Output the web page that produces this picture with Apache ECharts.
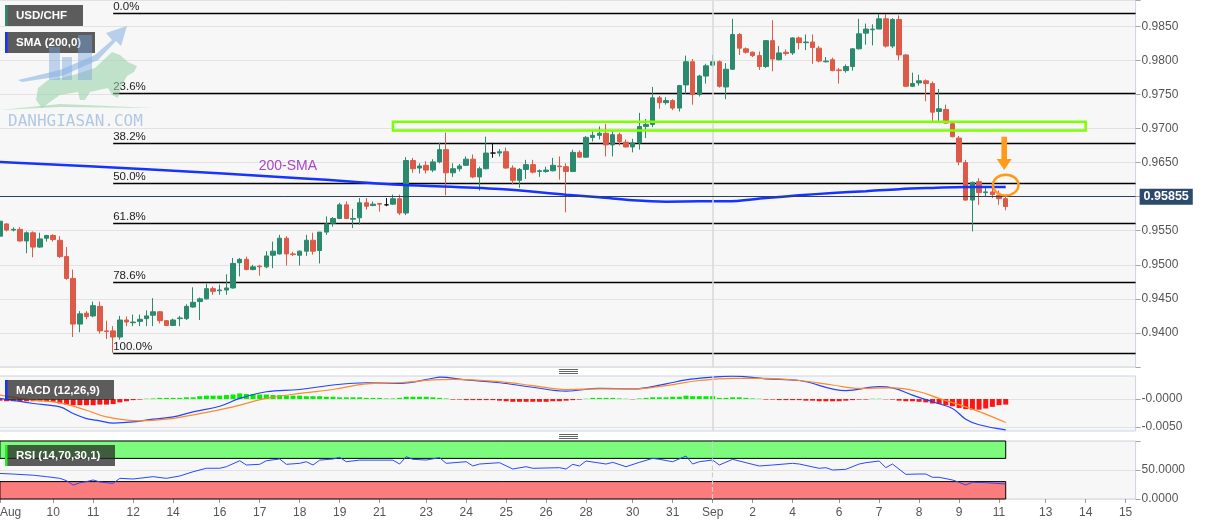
<!DOCTYPE html>
<html><head><meta charset="utf-8">
<script src="https://cdn.jsdelivr.net/npm/echarts@6/dist/echarts.min.js"></script>
<style>html,body{margin:0;padding:0;background:#fff}#c{width:1207px;height:526px}</style>
</head><body><div id="c"></div>
<script>
// ---------- DATA ----------
const opens = [0.9542,0.9560,0.9551,0.9552,0.9535,0.9547,0.9526,0.9539,0.9543,0.9536,0.9512,0.9480,0.9413,0.9429,0.9425,0.9439,0.9403,0.9403,0.9394,0.9419,0.9415,0.9417,0.9421,0.9426,0.9431,0.9418,0.9411,0.9421,0.9421,0.9438,0.9446,0.9450,0.9465,0.9462,0.9463,0.9466,0.9503,0.9508,0.9493,0.9498,0.9497,0.9514,0.9516,0.9539,0.9516,0.9514,0.9520,0.9536,0.9521,0.9548,0.9561,0.9568,0.9588,0.9567,0.9569,0.9591,0.9587,0.9590,0.9588,0.9589,0.9597,0.9576,0.9653,0.9642,0.9646,0.9639,0.9651,0.9669,0.9635,0.9641,0.9646,0.9655,0.9629,0.9641,0.9664,0.9664,0.9666,0.9642,0.9624,0.9640,0.9647,0.9637,0.9637,0.9638,0.9645,0.9644,0.9637,0.9665,0.9658,0.9687,0.9690,0.9693,0.9676,0.9691,0.9680,0.9673,0.9679,0.9703,0.9706,0.9745,0.9738,0.9741,0.9730,0.9764,0.9798,0.9750,0.9777,0.9793,0.9798,0.9761,0.9787,0.9838,0.9817,0.9812,0.9807,0.9791,0.9829,0.9801,0.9812,0.9811,0.9833,0.9826,0.9827,0.9818,0.9798,0.9801,0.9786,0.9785,0.9791,0.9817,0.9840,0.9845,0.9846,0.9861,0.9821,0.9860,0.9808,0.9762,0.9767,0.9770,0.9766,0.9725,0.9728,0.9707,0.9686,0.9650,0.9595,0.9622,0.9606,0.9607,0.9602,0.9597];
const closes = [0.9564,0.9551,0.9552,0.9535,0.9547,0.9526,0.9538,0.9543,0.9537,0.9512,0.9480,0.9413,0.9428,0.9424,0.9440,0.9403,0.9402,0.9394,0.9419,0.9416,0.9416,0.9420,0.9425,0.9431,0.9418,0.9411,0.9419,0.9422,0.9439,0.9445,0.9450,0.9465,0.9461,0.9463,0.9466,0.9502,0.9508,0.9493,0.9497,0.9497,0.9513,0.9520,0.9539,0.9516,0.9515,0.9520,0.9536,0.9520,0.9548,0.9560,0.9568,0.9588,0.9568,0.9568,0.9591,0.9586,0.9589,0.9589,0.9588,0.9597,0.9576,0.9653,0.9641,0.9645,0.9639,0.9651,0.9669,0.9635,0.9641,0.9645,0.9655,0.9629,0.9641,0.9664,0.9664,0.9666,0.9642,0.9624,0.9640,0.9647,0.9636,0.9638,0.9639,0.9646,0.9644,0.9637,0.9665,0.9658,0.9687,0.9690,0.9693,0.9676,0.9691,0.9681,0.9673,0.9679,0.9703,0.9706,0.9745,0.9738,0.9741,0.9730,0.9763,0.9798,0.9750,0.9777,0.9792,0.9798,0.9762,0.9787,0.9838,0.9818,0.9812,0.9807,0.9791,0.9829,0.9802,0.9811,0.9810,0.9833,0.9826,0.9827,0.9819,0.9799,0.9799,0.9785,0.9785,0.9791,0.9817,0.9839,0.9846,0.9846,0.9861,0.9821,0.9860,0.9808,0.9762,0.9766,0.9770,0.9766,0.9724,0.9729,0.9708,0.9688,0.9651,0.9595,0.9621,0.9606,0.9607,0.9603,0.9597,0.95855];
const lows = [0.9541,0.9549,0.9549,0.9534,0.9517,0.9511,0.9525,0.9534,0.9534,0.9510,0.9478,0.9394,0.9401,0.9420,0.9423,0.9399,0.9391,0.9371,0.9390,0.9410,0.9410,0.9410,0.9410,0.9410,0.9414,0.9410,0.9410,0.9410,0.9419,0.9437,0.9419,0.9449,0.9456,0.9456,0.9456,0.9465,0.9483,0.9492,0.9492,0.9484,0.9495,0.9495,0.9515,0.9499,0.9513,0.9499,0.9513,0.9515,0.9502,0.9544,0.9556,0.9567,0.9567,0.9554,0.9559,0.9581,0.9586,0.9578,0.9586,0.9588,0.9573,0.9573,0.9635,0.9634,0.9634,0.9636,0.9649,0.9602,0.9629,0.9637,0.9645,0.9627,0.9609,0.9640,0.9657,0.9659,0.9641,0.9618,0.9613,0.9626,0.9634,0.9629,0.9635,0.9637,0.9625,0.9577,0.9636,0.9657,0.9657,0.9681,0.9684,0.9659,0.9659,0.9675,0.9672,0.9665,0.9669,0.9686,0.9702,0.9729,0.9735,0.9727,0.9725,0.9751,0.9735,0.9747,0.9766,0.9791,0.9760,0.9743,0.9786,0.9808,0.9810,0.9805,0.9786,0.9789,0.9784,0.9800,0.9807,0.9808,0.9816,0.9815,0.9795,0.9797,0.9797,0.9784,0.9766,0.9782,0.9785,0.9816,0.9823,0.9822,0.9846,0.9819,0.9818,0.9800,0.9761,0.9761,0.9763,0.9740,0.9711,0.9711,0.9707,0.9687,0.9646,0.9594,0.9549,0.9588,0.9600,0.9598,0.9588,0.9580];
const highs = [0.9566,0.9561,0.9555,0.9555,0.9549,0.9549,0.9547,0.9544,0.9545,0.9542,0.9526,0.9493,0.9432,0.9432,0.9446,0.9446,0.9418,0.9410,0.9425,0.9424,0.9427,0.9427,0.9433,0.9451,0.9432,0.9419,0.9421,0.9425,0.9442,0.9467,0.9452,0.9472,0.9468,0.9471,0.9486,0.9510,0.9510,0.9512,0.9500,0.9500,0.9520,0.9534,0.9544,0.9542,0.9519,0.9521,0.9544,0.9547,0.9548,0.9571,0.9570,0.9591,0.9593,0.9582,0.9598,0.9598,0.9593,0.9590,0.9598,0.9603,0.9603,0.9658,0.9657,0.9649,0.9652,0.9655,0.9679,0.9694,0.9649,0.9648,0.9659,0.9662,0.9644,0.9688,0.9679,0.9670,0.9672,0.9646,0.9642,0.9654,0.9654,0.9640,0.9644,0.9657,0.9659,0.9649,0.9669,0.9668,0.9689,0.9698,0.9703,0.9707,0.9696,0.9694,0.9684,0.9685,0.9723,0.9714,0.9761,0.9748,0.9746,0.9743,0.9764,0.9807,0.9802,0.9779,0.9795,0.9808,0.9800,0.9796,0.9861,0.9840,0.9819,0.9813,0.9813,0.9830,0.9859,0.9821,0.9816,0.9834,0.9835,0.9838,0.9838,0.9821,0.9805,0.9804,0.9789,0.9794,0.9818,0.9861,0.9854,0.9853,0.9868,0.9868,0.9862,0.9866,0.9809,0.9782,0.9779,0.9772,0.9769,0.9758,0.9735,0.9709,0.9689,0.9654,0.9622,0.9627,0.9615,0.9614,0.9609,0.9600];
const dojiBlack = [58, 74];

const smaPoints = [[0,0.96509],[22,0.96404],[45,0.96272],[53,0.96220],[60,0.96176],[75,0.96113],[85,0.96029],[90,0.95990],[95,0.95946],[100,0.95927],[105,0.95931],[109,0.95931],[115,0.95981],[120,0.96019],[125,0.96054],[130,0.96081],[135,0.96110],[140,0.96128],[145,0.96142],[151,0.96142]];

const fibLabels = ['0.0%','23.6%','38.2%','50.0%','61.8%','78.6%','100.0%'];
const fibPrices = [0.9870,0.9752,0.9679,0.9620,0.9561,0.9475,0.9370];
const fibStartIdx = 17;

const zoneBox = [59, 0.9710, 163, 0.9697];   // [startIdx, top, endIdx, bottom]
const arrowMark = [151, 0.9688, 0.9639, 0.9617]; // [idx, shaftTop, tip, ellipseCenter]
const smaTag = [39, 0.9645, '200-SMA'];

const macdHist = [-0.0003,-0.0004,-0.0004,-0.0004,-0.0004,-0.0004,-0.0004,-0.0004,-0.0005,-0.0008,-0.0010,-0.0011,-0.0011,-0.0011,-0.0011,-0.0010,-0.0010,-0.0009,-0.0006,-0.0004,-0.0002,-0.0001,
0.00005,0.0001,0.0002,0.0002,0.0002,0.0002,0.0003,0.0003,0.0005,0.0006,0.0006,0.0006,0.0007,0.0008,0.0010,0.0009,0.0009,0.0008,0.0008,0.0007,0.0007,0.0006,0.0006,0.0006,0.0005,0.0005,0.0005,0.0004,0.0004,0.0003,0.0003,0.0003,0.0003,0.0002,0.0002,0.0002,0.0001,0.0001,0.0002,
0.0004,0.0004,0.0004,0.0004,0.0003,0.0002,0.0001,-0.0001,-0.0001,-0.0002,-0.0002,-0.0002,-0.0002,-0.0002,-0.0003,-0.0004,-0.0005,-0.0005,-0.0005,-0.0005,-0.0005,-0.0005,-0.0004,-0.0004,-0.0003,-0.0002,-0.0001,0.00005,0.0002,0.0002,0.0002,0.0002,0.0001,0.00005,-0.00005,0.0001,0.0002,0.0003,0.0003,0.0003,0.0004,0.0004,0.0006,0.0005,0.0005,0.0005,0.0005,0.0002,0.0002,0.0003,0.0003,0.0002,0.0001,0.00005,-0.0001,-0.0001,-0.0002,-0.0002,-0.0002,-0.0002,
-0.0003,-0.0003,-0.0004,-0.0004,-0.0004,-0.0004,-0.0003,-0.0002,-0.0001,-0.0001,0.00005,0.00005,-0.00005,-0.0001,-0.0003,-0.0004,-0.0004,-0.0005,-0.0006,-0.0008,-0.0009,-0.0011,-0.0013,-0.0016,-0.0018,-0.0019,-0.0019,-0.0017,-0.0014,-0.0011,-0.0010];
const macdLine = [[0,0.0001],[5,-0.0008],[9,-0.0014],[11,-0.0026],[13,-0.0035],[15,-0.0039],[17,-0.0043],[20,-0.0041],[23,-0.0036],[26,-0.0032],[29,-0.0023],[33,-0.0013],[36,0.0001],[40,0.0013],[45,0.0017],[50,0.0025],[55,0.0029],[60,0.0028],[65,0.0037],[66,0.0039],[70,0.0034],[75,0.0029],[80,0.0021],[85,0.0014],[90,0.0019],[95,0.0018],[100,0.0027],[103,0.0034],[107,0.0039],[110,0.0041],[115,0.0036],[120,0.0033],[127,0.0015],[132,0.0022],[134,0.0020],[137,0.0007],[140,-0.0005],[143,-0.0017],[145,-0.0036],[147,-0.0046],[151,-0.0055]];
const signalLine = [[0,0.0007],[5,-0.0002],[9,-0.0007],[13,-0.0020],[16,-0.0032],[21,-0.0039],[25,-0.0036],[30,-0.0026],[35,-0.0014],[40,0.0001],[45,0.0010],[50,0.0017],[55,0.0027],[60,0.0029],[65,0.0034],[68,0.0035],[75,0.0031],[80,0.0024],[85,0.0017],[90,0.0018],[95,0.0018],[100,0.0024],[105,0.0033],[110,0.0037],[115,0.0037],[120,0.0033],[125,0.0025],[129,0.0019],[134,0.0020],[138,0.0013],[141,0.0001],[145,-0.0014],[148,-0.0027],[151,-0.0042]];
const rsiLine = [[0,44],[2,43],[5,41],[7,38.5],[9,35.6],[10,31.6],[11,24],[12,28],[13,30],[14,32.8],[15,29.3],[16,28],[17,27],[18,35.6],[20,34.5],[23,38.5],[25,35.6],[27,39.7],[29,47],[31,53],[33,53],[34,55.7],[36,66],[37,58.6],[39,59.8],[40,66],[42,69],[43,59.8],[45,61.5],[46,64.3],[47,58.6],[48,67],[50,69],[51,71.8],[52,64.3],[54,67],[59,67],[60,60.3],[61,73],[62,68.4],[64,67.2],[66,71.3],[67,61.5],[70,64.3],[71,56.9],[72,60.3],[75,62.6],[77,51.7],[79,55.7],[80,52.9],[84,54],[85,51.7],[86,59.8],[87,56.9],[88,65.5],[91,60.3],[92,63.2],[94,55.7],[96,63.2],[98,70.1],[99,68.4],[101,64.3],[103,74.1],[104,60.3],[105,64.3],[107,67.2],[108,58.6],[110,68.4],[112,62.6],[114,56.9],[116,58.6],[119,61.5],[120,60.3],[123,52.9],[124,54],[125,50],[127,51.2],[129,60.3],[130,62.6],[132,65.5],[133,54],[134,60.3],[136,42.5],[138,43.1],[139,43.1],[140,37.4],[141,37.4],[143,32.8],[144,28.8],[145,24.1],[146,28.8],[148,28.1],[151,25.9]];
const rsiBands = [[70,100],[0,30]];

const xTickIdx = [0,8,14,20,26,33,39,45,51,57,64,70,76,82,88,95,101,107,113,119,126,132,138,144,150,157,163,169];
const xTickText = ['Aug','10','11','12','14','16','17','18','19','21','23','24','25','26','28','30','31','Sep','2','4','6','7','8','9','11','13','14','15'];
const monthStartIdx = 107;
const SLOTS = 171;
const lastPrice = closes[closes.length - 1];

// ---------- CHART ----------
const FONT = 'Liberation Sans, Arial, sans-serif';
const cats = Array.from({length: SLOTS}, (_, i) => String(i));
const labelMap = {}; xTickIdx.forEach((k, j) => labelMap[k] = xTickText[j]);
const showTick = (i) => labelMap[i] !== undefined;
const lastIdx = closes.length - 1;

const candleData = opens.map((o, i) => {
  const d = [o, closes[i], lows[i], highs[i]];
  if (dojiBlack.includes(i)) return {value: d, itemStyle: {color: '#111', color0: '#111', borderColor: '#111', borderColor0: '#111'}};
  return d;
});

const gridBase = {show: true, backgroundColor: '#f7f7f7', borderColor: '#cbd3e4', borderWidth: 1, left: -3.4, width: 1139, containLabel: false, outerBoundsMode: 'none'};
const hiddenX = (gi) => ({type: 'category', gridIndex: gi, data: cats, boundaryGap: true, axisLine: {show: false}, axisTick: {show: false}, axisLabel: {show: false}, splitLine: {show: false}});
const yCommon = {position: 'right', axisLine: {show: false}, axisTick: {show: true, length: 5, lineStyle: {color: '#9aa'}}, axisLabel: {color: '#555', fontSize: 12, fontFamily: FONT, margin: 6}, splitLine: {show: true, lineStyle: {color: '#e2e2e2', width: 1}}};

function tagBox(x, y, w, h, text, accent) {
  return {type: 'group', z: 100, children: [
    {type: 'rect', z: 100, shape: {x: x, y: y, width: w, height: h}, style: {fill: 'rgba(40,40,40,0.75)'}},
    {type: 'rect', z: 101, shape: {x: x, y: y, width: 2.5, height: h}, style: {fill: accent}},
    {type: 'text', z: 102, x: x + 11, y: y + h / 2 + 0.5, style: {text: text, fill: '#fff', fontSize: 11.5, fontWeight: 'bold', fontFamily: FONT, verticalAlign: 'middle'}}
  ]};
}
function grip(y) {
  return {type: 'group', z: 100, children: [0, 2, 4].map(d => ({type: 'line', z: 100, shape: {x1: 559, y1: y + d + 0.5, x2: 578, y2: y + d + 0.5}, style: {stroke: '#666', lineWidth: 1}}))};
}
const WZ = 110;

const option = {
  animation: false,
  backgroundColor: '#fff',
  textStyle: {fontFamily: FONT},
  grid: [
    Object.assign({top: 0.5, height: 366.5}, gridBase),
    Object.assign({top: 376, height: 55}, gridBase),
    Object.assign({top: 441, height: 58}, gridBase)
  ],
  xAxis: [hiddenX(0), hiddenX(1), {
    type: 'category', gridIndex: 2, data: cats, boundaryGap: true,
    axisLine: {show: false},
    axisTick: {show: true, interval: (i) => showTick(i), alignWithLabel: true, length: 4, lineStyle: {color: '#999'}},
    axisLabel: {show: true, interval: (i) => showTick(i), formatter: (v, i) => labelMap[i] || '', color: '#555', fontSize: 12, fontFamily: FONT, margin: 8, alignMinLabel: 'left'},
    splitLine: {show: false}
  }],
  yAxis: [
    Object.assign({}, yCommon, {type: 'value', gridIndex: 0, min: 0.935, max: 0.98879, interval: 0.005,
      axisLabel: Object.assign({}, yCommon.axisLabel, {formatter: (v) => (v < 0.9375 || v > 0.9865) ? '' : v.toFixed(4)})}),
    Object.assign({}, yCommon, {type: 'value', gridIndex: 1, min: -0.005714, max: 0.004107,
      axisLabel: Object.assign({}, yCommon.axisLabel, {customValues: [-0.005, 0], formatter: (v) => (v <= 0 ? '-' : '') + Math.abs(v).toFixed(4)}),
      axisTick: Object.assign({}, yCommon.axisTick, {customValues: [-0.005, 0]})}),
    Object.assign({}, yCommon, {type: 'value', gridIndex: 2, min: 0, max: 100, interval: 50,
      axisLabel: Object.assign({}, yCommon.axisLabel, {formatter: (v) => v >= 100 ? '' : v.toFixed(4)})})
  ],
  series: [
    { // Fibonacci levels
      type: 'custom', xAxisIndex: 0, yAxisIndex: 0, silent: true, z: 1,
      data: fibPrices.map((p, i) => [fibStartIdx, p, i]),
      renderItem: (params, api) => {
        const i = params.dataIndex;
        const pt = api.coord([fibStartIdx, fibPrices[i]]);
        const cs = params.coordSys;
        const y = Math.round(pt[1]) + 0.5;
        return {type: 'group', children: [
          {type: 'line', shape: {x1: pt[0], y1: y, x2: cs.x + cs.width, y2: y}, style: {stroke: '#000', lineWidth: 1.3}},
          {type: 'text', x: pt[0], y: y - 1, style: {text: fibLabels[i], fill: '#222', fontSize: 11.5, fontFamily: FONT, align: 'left', verticalAlign: 'bottom'}}
        ]};
      }
    },
    {
      type: 'candlestick', xAxisIndex: 0, yAxisIndex: 0, data: candleData, barWidth: 5, z: 3,
      itemStyle: {color: '#2b8a6e', color0: '#dc5a47', borderColor: '#2b8a6e', borderColor0: '#dc5a47', borderWidth: 1},
      markLine: {
        silent: true, symbol: ['none', 'none'], animation: false,
        data: [
          {xAxis: monthStartIdx, lineStyle: {color: '#d8d8d8', width: 1.5, type: 'solid'}, label: {show: false}},
          {yAxis: lastPrice, lineStyle: {color: '#2b3f5e', width: 1, type: 'solid'},
            label: {show: true, position: 'end', formatter: () => lastPrice.toFixed(5), backgroundColor: '#2c4a6b', color: '#fff', fontWeight: 'bold', fontSize: 12.5, fontFamily: FONT, padding: [2, 4, 1, 4], distance: 4}}
        ]
      }
    },
    {
      type: 'line', xAxisIndex: 0, yAxisIndex: 0, data: smaPoints, showSymbol: false, smooth: 0.35, z: 4,
      lineStyle: {color: '#1733ff', width: 2.5}, silent: true
    },
    { // resistance zone
      type: 'custom', xAxisIndex: 0, yAxisIndex: 0, silent: true, z: 5,
      data: [zoneBox],
      renderItem: (params, api) => {
        const a = api.coord([zoneBox[0], zoneBox[1]]);
        const b = api.coord([zoneBox[2], zoneBox[3]]);
        return {type: 'rect', shape: {x: a[0], y: a[1], width: b[0] - a[0], height: b[1] - a[1]}, style: {fill: 'none', stroke: '#7dff00', lineWidth: 2.5}};
      }
    },
    { // annotations
      type: 'custom', xAxisIndex: 0, yAxisIndex: 0, silent: true, z: 6,
      data: [[arrowMark[0], arrowMark[1]]],
      renderItem: (params, api) => {
        const top = api.coord([arrowMark[0], arrowMark[1]]);
        const tip = api.coord([arrowMark[0], arrowMark[2]]);
        const e = api.coord([arrowMark[0], arrowMark[3]]);
        const s = api.coord([smaTag[0], smaTag[1]]);
        const cx = top[0] - 1.5, rx = 12.8, ry = 10.3;
        const col = '#ff9a1a';
        return {type: 'group', children: [
          {type: 'rect', shape: {x: cx - 2.8, y: top[1], width: 5.6, height: tip[1] - top[1] - 10}, style: {fill: col}},
          {type: 'polygon', shape: {points: [[cx - 7.5, tip[1] - 11], [cx + 7.5, tip[1] - 11], [cx, tip[1]]]}, style: {fill: col}},
          {type: 'path', shape: {pathData: 'M0,' + ry + ' A' + rx + ',' + ry + ' 0 1,0 ' + (2 * rx) + ',' + ry + ' A' + rx + ',' + ry + ' 0 1,0 0,' + ry + ' Z', x: e[0] - rx, y: e[1] - ry, width: 2 * rx, height: 2 * ry}, style: {fill: 'none', stroke: col, lineWidth: 2.5}},
          {type: 'text', x: s[0] - 1, y: s[1], style: {text: smaTag[2], fill: '#a845c8', fontSize: 14, fontFamily: FONT, align: 'left', verticalAlign: 'middle'}}
        ]};
      }
    },
    { // MACD histogram
      type: 'bar', xAxisIndex: 1, yAxisIndex: 1, data: macdHist, barWidth: 5, silent: true,
      itemStyle: {color: (p) => p.value >= 0 ? '#00f000' : '#ff1414'},
      markLine: {silent: true, symbol: ['none', 'none'], label: {show: false}, data: [{xAxis: monthStartIdx}], lineStyle: {color: '#d8d8d8', width: 1.5, type: 'solid'}}
    },
    {type: 'line', xAxisIndex: 1, yAxisIndex: 1, data: macdLine, showSymbol: false, smooth: 0.4, lineStyle: {color: '#2343ff', width: 1.2}, silent: true, z: 4},
    {type: 'line', xAxisIndex: 1, yAxisIndex: 1, data: signalLine, showSymbol: false, smooth: 0.4, lineStyle: {color: '#ff8a2a', width: 1.2}, silent: true, z: 4},
    { // RSI
      type: 'line', xAxisIndex: 2, yAxisIndex: 2, data: rsiLine, showSymbol: false, lineStyle: {color: '#2848ff', width: 1}, silent: true, z: 4,
      markArea: {silent: true, data: [
        [{xAxis: 0, yAxis: rsiBands[0][0], itemStyle: {color: '#7cfb7c', borderColor: '#000', borderWidth: 1}}, {xAxis: lastIdx, yAxis: rsiBands[0][1]}],
        [{xAxis: 0, yAxis: rsiBands[1][0], itemStyle: {color: '#fb7c7c', borderColor: '#000', borderWidth: 1}}, {xAxis: lastIdx, yAxis: rsiBands[1][1]}]
      ]},
      markLine: {silent: true, symbol: ['none', 'none'], label: {show: false}, data: [{xAxis: monthStartIdx}], lineStyle: {color: '#d0d0d0', width: 1.2, type: 'dashed'}}
    }
  ],
  graphic: [
    tagBox(5, 5, 78, 21, 'USD/CHF', '#2a8a6a'),
    tagBox(5, 32, 90, 21, 'SMA (200,0)', '#1733ff'),
    tagBox(5, 380, 109, 20, 'MACD (12,26,9)', '#1733ff'),
    tagBox(5, 445, 110, 21, 'RSI (14,70,30,1)', '#22ee22'),
    grip(369), grip(434),
    { // watermark
      type: 'group', z: WZ, silent: true, children: [
        {type: 'polygon', z: WZ, shape: {points: [[0, 110], [60, 104], [155, 108], [60, 107]]}, style: {fill: 'rgba(150,210,165,0.55)'}},
        {type: 'polygon', z: WZ, shape: {points: [[36,100],[38,88],[48,80],[70,76],[95,68],[112,52],[120,55],[128,62],[137,66],[134,72],[127,76],[122,85],[118,98],[112,95],[108,88],[90,92],[85,100],[80,100],[78,92],[60,95],[50,102],[42,108]]}, style: {fill: 'rgba(150,210,165,0.55)'}},
        {type: 'rect', z: WZ, shape: {x: 49, y: 47, width: 11, height: 33}, style: {fill: 'rgba(120,165,220,0.45)'}},
        {type: 'rect', z: WZ, shape: {x: 62, y: 57, width: 10, height: 23}, style: {fill: 'rgba(120,165,220,0.45)'}},
        {type: 'rect', z: WZ, shape: {x: 78, y: 35, width: 14, height: 45}, style: {fill: 'rgba(120,165,220,0.45)'}},
        {type: 'polygon', z: WZ, shape: {points: [[18,80],[60,70],[95,55],[112,40],[106,33],[127,26],[121,46],[116,41],[98,60],[62,76],[22,82]]}, style: {fill: 'rgba(130,175,225,0.55)'}},
        {type: 'text', z: WZ, x: 8, y: 130, style: {text: 'DANHGIASAN.COM', fontFamily: 'DejaVu Sans Mono', fontSize: 16, fill: 'rgba(140,175,215,0.65)', verticalAlign: 'bottom'}}
      ]
    }
  ]
};

const chart = echarts.init(document.getElementById('c'), null, {renderer: 'canvas'});
chart.setOption(option);
</script>
</body></html>
